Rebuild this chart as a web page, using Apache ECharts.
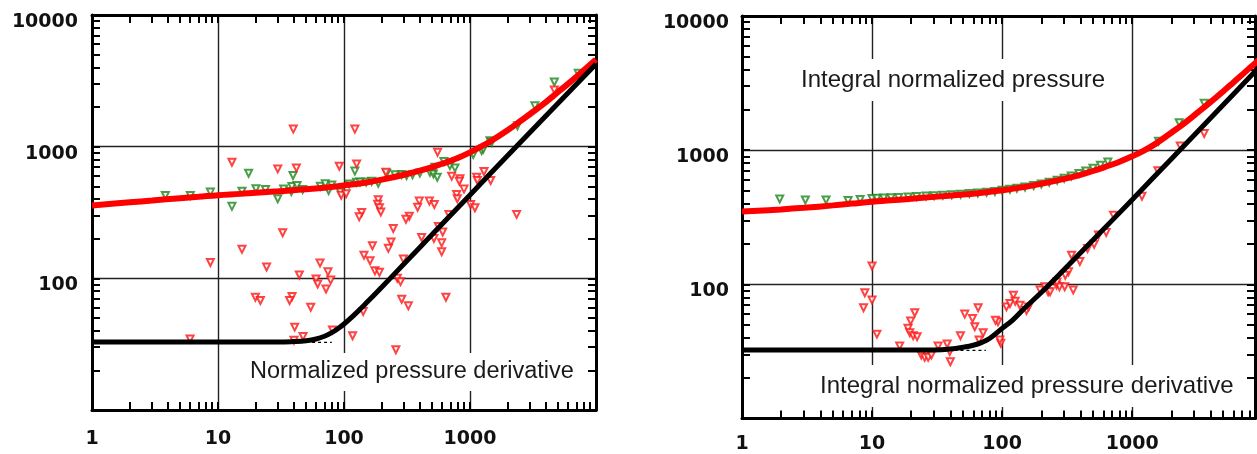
<!DOCTYPE html>
<html>
<head>
<meta charset="utf-8">
<script src="https://cdn.jsdelivr.net/npm/echarts@6/dist/echarts.min.js"></script>
<style>
html,body{margin:0;padding:0;background:#fff;}
#chart{width:1257px;height:454px;}
</style>
</head>
<body>
<div id="chart"></div>
<script>
// ---------- tick labels ----------
const xLabelVals = [1, 10, 100, 1000];
const yLabelVals = [100, 1000, 10000];
const decadesX = [1, 10, 100, 1000];
const decadesY = [10, 100, 1000];
const minorSteps = [1, 2, 3, 4, 5, 6, 7, 8, 9];

// ---------- left panel ----------
const leftRedX = [1, 2, 3, 5, 7, 10, 15, 20, 30, 50, 70, 100, 150, 200, 300, 400, 500, 600, 700, 800, 1000, 1200, 1500, 2000, 2500, 3000, 4000, 5000, 6000, 7000, 8000, 10000];
const leftRedY = [358, 378, 390, 406, 416, 428, 438, 447, 458, 474, 488, 508, 535, 562, 612, 657, 700, 742, 780, 820, 905, 990, 1120, 1340, 1560, 1770, 2180, 2600, 3000, 3400, 3800, 4600];
const leftBlackX = [1, 10, 30, 40, 50, 60, 70, 80, 90, 100, 120, 150, 200, 300, 500, 1000, 2000, 5000, 10000];
const leftBlackY = [32.8, 32.8, 32.8, 33.1, 33.6, 34.6, 36.3, 38.7, 41.6, 45, 52.6, 64.9, 86, 129, 215, 430, 860, 2140, 4250];
const leftDashX = [50, 80];
const leftDashY = [32.6, 32.6];
const leftGreen = [
  [3.82,426],[6.03,426],[8.7,452],[12.9,352],[15.5,459],[17.5,628],[20,479],[23.8,473],[29.8,402],[33.2,476],
  [38.2,457],[38.6,499],[39.4,604],[42.4,507],[47,473],[64.9,501],[71,522],[75.5,465],[80,511],[93.5,452],
  [110,520],[122,652],[126,537],[134,540],[150,538],[166,546],[187,528],[218,628],[254,611],[287,614],
  [314,604],[350,612],[400,630],[481,640],[512,621],[527,698],[550,586],[621,771],[693,718],[760,690],
  [1061,871],[1237,933],[1275,960],[1440,1110],[1486,1079],[2380,1443],[3273,2042],[4670,3097],[7230,3605]
];
const leftRedPts = [
  [39.6,1360],[12.9,762],[29.8,678],[41.9,690],[91.8,710],[95,428],[104,439],[32.6,222],[15.5,166],[8.7,132],
  [24.3,122],[44.2,106],[64.5,131],[74.6,112],[78.4,97],[60,98.8],[61.8,90.6],[72,83],[19.8,71.8],[21.7,67.8],
  [38.7,72.7],[37,67.8],[54.4,60.4],[40.6,42.6],[47.3,36.2],[40.1,33.8],[6.0,34.6],[81,40.6],
  [122,1360],[126,740],[215,640],[715,597],[832,570],[822,547],[896,476],[1129,586],[1144,553],[1291,647],
  [1459,553],[553,906],[783,434],[793,402],[1011,364],[1094,344],[2344,306],[396,386],[476,386],[521,364],
  [384,347],[680,306],[330,296],[310,281],[187,396],[185,365],[191,344],[196,319],[138,316],[132,293],
  [246,239],[413,204],[517,201],[561,248],[607,225],[596,186],[596,159],[236,189],[225,169],[168,177],
  [144,150],[161,136],[176,114],[191,111],[296,140],[265,100],[281,94.4],[287,69.4],[324,61.8],[644,71.8],
  [142,56],[117,36.6],[258,28.7],[4670,2698]
];

// ---------- right panel ----------
const rightXMax = 8800;
const rightRedX = [1, 2, 3, 5, 7, 10, 15, 20, 30, 50, 70, 100, 150, 200, 300, 400, 500, 600, 700, 800, 1000, 1200, 1500, 2000, 2500, 3000, 4000, 5000, 6000, 7000, 8000, 10000];
const rightRedY = [349, 362, 372, 388, 400, 413, 425, 435, 449, 467, 482, 503, 533, 562, 612, 656, 700, 742, 782, 820, 900, 980, 1110, 1350, 1580, 1820, 2280, 2740, 3200, 3650, 4100, 4950];
const rightBlackX = [1, 10, 30, 40, 50, 60, 70, 80, 100, 120, 150, 200, 300, 500, 1000, 2000, 5000, 10000];
const rightBlackY = [32.4, 32.4, 32.5, 33, 34, 35.2, 37, 39.5, 47, 54, 67, 87, 129, 214, 428, 860, 2170, 4400];
const rightDashX = [43, 75];
const rightDashY = [32.2, 32.2];
const rightGreen = [
  [1.95,433],[3.07,425],[4.43,425],[6.54,422],[8.1,430],[10,436],[10.9,438],[12.3,440],[14,442],[16,445],
  [19,448],[22,451],[26,455],[30,458],[35,462],[41,466],[48,470],[56,475],[65,480],[76,486],
  [88,493],[100,502],[115,511],[130,520],[150,531],[175,546],[200,561],[230,578],[265,598],[300,618],
  [340,642],[390,670],[440,700],[500,734],[570,774],[650,818],[1594,1167],[2300,1600],[3580,2240]
];
const rightRedPts = [
  [10,137],[8.8,86.7],[10,76.4],[8.6,67],[10.9,42.6],[16.3,34.8],[21.3,61.5],[19.8,53.4],[18.9,47.1],[19.5,43.7],
  [20.7,41.5],[22.2,40.8],[23.9,29.8],[25.4,28.6],[27,28.6],[28.6,29.8],[32.2,34.8],[37.8,36],[39.6,31.6],[40,26.5],
  [47.8,41.5],[51.6,60.1],[59.2,55.8],[61.6,48.4],[65.4,67],[71.5,43.7],[66.5,38.5],[97.7,36.4],[96,38.5],[93,52.7],
  [88.9,54],[108,68],[115,72],[122,83],[126,75],[137,70],[154,64],[160,68],[196,91],[213,96],
  [226,88],[234,88],[262,99],[276,96],[303,96],[352,91],[264,104],[324,124],[306,117],[342,165],
  [396,148],[454,185],[510,199],[551,233],[631,244],[719,328],[1189,454],[1578,702],[2344,1077],[3579,1331]
];

// ---------- helpers ----------
function zip(xs, ys) { return xs.map((x, i) => [x, ys[i]]); }
function tickList(decades, top) {
  const out = [];
  decades.forEach(d => minorSteps.forEach(m => out.push(d * m)));
  out.push(decades[decades.length - 1] * 10);
  return out.filter(v => v <= top);
}
const plainNum = v => String(Math.round(v));

const labelFont = {fontSize: 19, fontWeight: 'bold', fontFamily: 'DejaVu Sans', color: '#111', formatter: plainNum};
const axisLineStyle = {show: true, onZero: false, lineStyle: {color: '#000', width: 3}};
const gridLineStyle = {show: true, lineStyle: {color: '#222', width: 1.4}};

function mainX(gi, max, margin) {
  return {type: 'log', logBase: 10, gridIndex: gi, min: 1, max: max, position: 'bottom',
    axisLine: axisLineStyle, axisTick: {show: false},
    axisLabel: Object.assign({customValues: xLabelVals, margin: margin}, labelFont),
    splitLine: gridLineStyle};
}
function tickX(gi, max, pos, showLine) {
  return {type: 'log', logBase: 10, gridIndex: gi, min: 1, max: max, position: pos,
    axisLine: Object.assign({}, axisLineStyle, {show: showLine}),
    axisTick: {show: true, inside: true, length: 8, customValues: tickList(decadesX, max), lineStyle: {color: '#000', width: 2}},
    axisLabel: {show: false}, splitLine: {show: false}};
}
function mainY(gi, margin) {
  return {type: 'log', logBase: 10, gridIndex: gi, min: 10, max: 10000, position: 'left',
    axisLine: axisLineStyle, axisTick: {show: false},
    axisLabel: Object.assign({customValues: yLabelVals, margin: margin, verticalAlign: 'top', lineHeight: 14}, labelFont),
    splitLine: gridLineStyle};
}
function tickY(gi, pos, showLine) {
  return {type: 'log', logBase: 10, gridIndex: gi, min: 10, max: 10000, position: pos,
    axisLine: Object.assign({}, axisLineStyle, {show: showLine}),
    axisTick: {show: true, inside: true, length: 8, customValues: tickList(decadesY, 10000), lineStyle: {color: '#000', width: 2}},
    axisLabel: {show: false}, splitLine: {show: false}};
}

function lineSeries(xi, data, color, width, z) {
  return {type: 'line', xAxisIndex: xi, yAxisIndex: xi, data: data, symbol: 'none', smooth: 0.4,
    lineStyle: {color: color, width: width}, z: z, silent: true};
}
function dashSeries(xi, data) {
  return {type: 'line', xAxisIndex: xi, yAxisIndex: xi, data: data, symbol: 'none',
    lineStyle: {color: '#000', width: 1.2, type: [3, 3]}, z: 3, silent: true};
}
function scatterSeries(xi, data, color) {
  return {type: 'scatter', xAxisIndex: xi, yAxisIndex: xi, data: data, symbol: 'emptyTriangle', symbolRotate: 180,
    symbolSize: 7, itemStyle: {color: color, borderColor: color, borderWidth: 2}, z: 2, silent: true};
}

const option = {
  animation: false,
  backgroundColor: '#fff',
  grid: [
    {left: 92, top: 15, width: 504, height: 395},
    {left: 742, top: 16, width: 513, height: 402.6}
  ],
  xAxis: [
    mainX(0, 10000, 20), tickX(0, 10000, 'bottom', false), tickX(0, 10000, 'top', true),
    mainX(1, rightXMax, 16), tickX(1, rightXMax, 'bottom', false), tickX(1, rightXMax, 'top', true)
  ],
  yAxis: [
    mainY(0, 14), tickY(0, 'left', false), tickY(0, 'right', true),
    mainY(1, 13), tickY(1, 'left', false), tickY(1, 'right', true)
  ],
  series: [
    scatterSeries(0, leftGreen, '#1c861c'),
    scatterSeries(0, leftRedPts, '#ff1414'),
    lineSeries(0, zip(leftRedX, leftRedY), '#ff0000', 6, 4),
    lineSeries(0, zip(leftBlackX, leftBlackY), '#000000', 5, 5),
    dashSeries(0, zip(leftDashX, leftDashY)),
    scatterSeries(3, rightGreen, '#1c861c'),
    scatterSeries(3, rightRedPts, '#ff1414'),
    lineSeries(3, zip(rightRedX, rightRedY), '#ff0000', 6, 4),
    lineSeries(3, zip(rightBlackX, rightBlackY), '#000000', 5, 5),
    dashSeries(3, zip(rightDashX, rightDashY))
  ],
  graphic: [
    {type: 'text', x: 242, y: 372, z: 1, style: {text: 'Normalized pressure derivative', font: '23.5px "Liberation Sans"',
      fill: '#1a1a1a', backgroundColor: '#fff', padding: [7, 8], align: 'left', verticalAlign: 'middle'}},
    {type: 'text', x: 792, y: 80, z: 1, style: {text: 'Integral normalized pressure', font: '24px "Liberation Sans"',
      fill: '#1a1a1a', backgroundColor: '#fff', padding: [9, 9], align: 'left', verticalAlign: 'middle'}},
    {type: 'text', x: 811, y: 386, z: 1, style: {text: 'Integral normalized pressure derivative', font: '24px "Liberation Sans"',
      fill: '#1a1a1a', backgroundColor: '#fff', padding: [9, 9], align: 'left', verticalAlign: 'middle'}}
  ]
};

const chart = echarts.init(document.getElementById('chart'), null, {renderer: 'canvas'});
chart.setOption(option);
</script>
</body>
</html>
